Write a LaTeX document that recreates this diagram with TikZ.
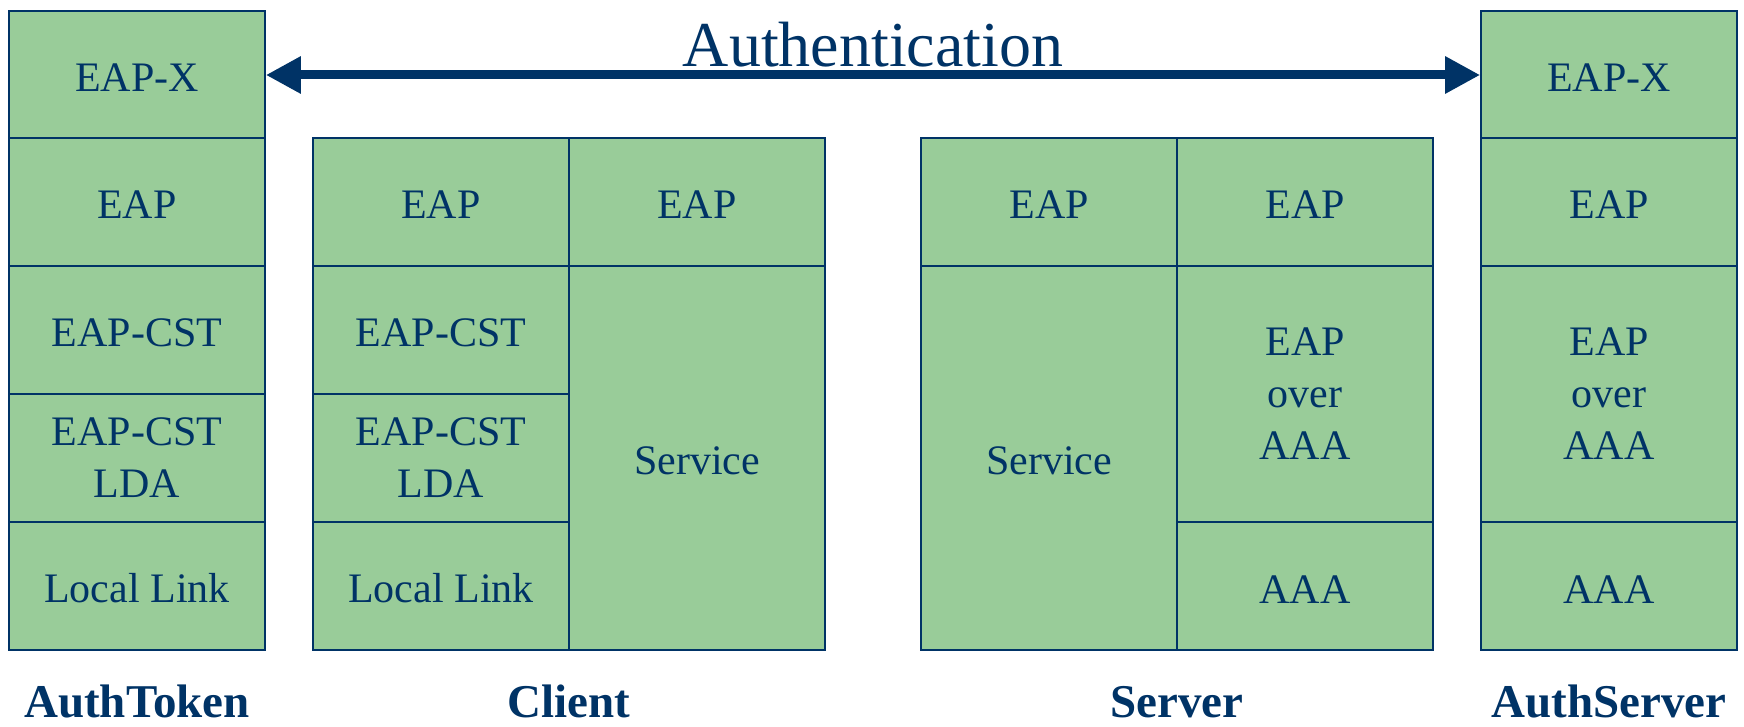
\documentclass[tikz,border=0pt]{standalone}
\usepackage{fontspec}
\setmainfont{Liberation Serif}
\usetikzlibrary{arrows.meta}
\definecolor{dblue}{RGB}{0,51,102}
\definecolor{cellgreen}{RGB}{153,204,153}
\tikzset{
  cell/.style={draw=dblue, line width=0.8pt, fill=cellgreen, text=dblue,
    inner sep=0pt, align=center, minimum width=128pt, text height=17pt,
    font=\fontsize{21}{26}\selectfont},
  multi/.style={text height=, execute at begin node={\rule{0pt}{17.6pt}}},
  row1/.style={minimum height=64pt},
  row2/.style={minimum height=128pt},
  row3/.style={minimum height=192pt},
  entity/.style={text=dblue, anchor=base, inner sep=0pt, font=\fontsize{23.5}{28}\selectfont\bfseries},
  authlabel/.style={text=dblue, anchor=base, inner sep=0pt, font=\fontsize{32}{38}\selectfont},
  authlink/.style={draw=dblue, line width=4.5pt,
    {Triangle[length=17.5pt,width=17.5pt]}-{Triangle[length=17.5pt,width=17.5pt]}}
}
\begin{document}
\begin{tikzpicture}[x=0.5pt, y=-0.5pt]
\useasboundingbox (0,0) rectangle (1744,727);
% AuthToken
\node[cell,row1] (tx)   at (137,75)  {EAP-X};
\node[cell,row1] (teap) at (137,202) {EAP};
\node[cell,row1] (tcst) at (137,330) {EAP-CST};
\node[cell,row1,multi] (tlda) at (137,458) {EAP-CST\\LDA};
\node[cell,row1] (tll)  at (137,586) {Local Link};
% Client
\node[cell,row1] (ceap1) at (441,202) {EAP};
\node[cell,row1] (ceap2) at (697,202) {EAP};
\node[cell,row1] (ccst)  at (441,330) {EAP-CST};
\node[cell,row1,multi] (clda)  at (441,458) {EAP-CST\\LDA};
\node[cell,row1] (cll)   at (441,586) {Local Link};
\node[cell,row3] (csvc)  at (697,458) {Service};
% Server
\node[cell,row1] (seap1) at (1049,202) {EAP};
\node[cell,row1] (seap2) at (1305,202) {EAP};
\node[cell,row3] (ssvc)  at (1049,458) {Service};
\node[cell,row2,multi] (saaa1) at (1305,394) {EAP\\over\\AAA};
\node[cell,row1] (saaa2) at (1305,586) {AAA};
% AuthServer
\node[cell,row1] (sx)    at (1609,75)  {EAP-X};
\node[cell,row1] (aeap)  at (1609,202) {EAP};
\node[cell,row2,multi] (aover) at (1609,394) {EAP\\over\\AAA};
\node[cell,row1] (aaaa)  at (1609,586) {AAA};
% Authentication arrow
\node[authlabel] (auth) at (873,67) {Authentication};
\draw[authlink] (tx.east) -- (sx.west);
% Labels
\node[entity] (ltoken)  at (137,717)  {AuthToken};
\node[entity] (lclient) at (569,717)  {Client};
\node[entity] (lserver) at (1177,717) {Server};
\node[entity] (lauth)   at (1609,717) {AuthServer};
\end{tikzpicture}
\end{document}
